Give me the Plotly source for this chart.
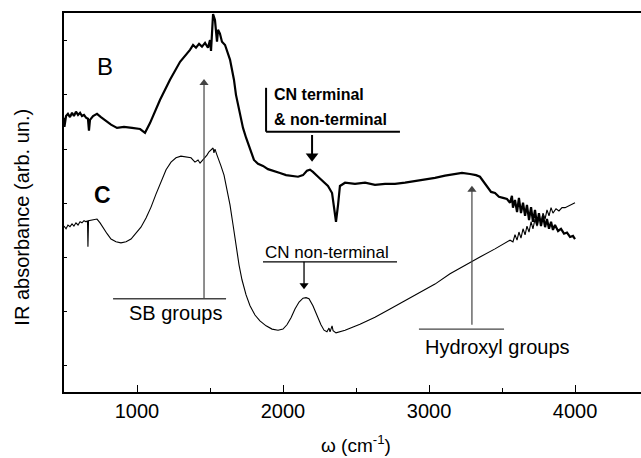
import plotly.graph_objects as go

# IR spectra, wavenumber (cm-1) vs absorbance (arbitrary units, offset traces)
wn_B = [500, 503, 514, 527, 541, 555, 568, 582, 596, 610, 623, 637, 651, 664, 671, 678, 699, 726, 753, 788,
        822, 863, 911, 966, 1021, 1055, 1089, 1158, 1226, 1295, 1363, 1384, 1404, 1425, 1445, 1466, 1486, 1500,
        1507, 1521, 1534, 1548, 1555, 1568, 1582, 1603, 1623, 1637, 1651, 1664, 1678, 1692, 1705, 1726, 1747,
        1774, 1801, 1829, 1863, 1897, 1938, 1979, 2021, 2062, 2103, 2137, 2164, 2185, 2205, 2240, 2281, 2308,
        2336, 2349, 2363, 2377, 2390, 2425, 2493, 2562, 2630, 2699, 2767, 2836, 2904, 2973, 3041, 3110, 3178,
        3226, 3281, 3322, 3349, 3377, 3404, 3425, 3452, 3479, 3507, 3534, 3555, 3568, 3575, 3589, 3603, 3616,
        3630, 3644, 3658, 3671, 3685, 3699, 3712, 3726, 3740, 3753, 3767, 3781, 3795, 3808, 3822, 3836, 3849,
        3863, 3884, 3904, 3925, 3945, 3966, 3986, 4000]
abs_B = [5.58, 5.41, 5.61, 5.65, 5.59, 5.67, 5.61, 5.69, 5.63, 5.67, 5.61, 5.63, 5.58, 5.56, 5.34, 5.54, 5.61,
         5.65, 5.59, 5.52, 5.45, 5.39, 5.41, 5.39, 5.37, 5.30, 5.48, 5.91, 6.28, 6.61, 6.83, 6.92, 6.87, 6.94,
         6.89, 6.96, 6.87, 7.01, 6.81, 7.49, 7.38, 6.98, 7.20, 7.13, 6.98, 6.92, 6.74, 6.65, 6.46, 6.28, 6.00,
         5.82, 5.63, 5.39, 5.21, 4.99, 4.80, 4.73, 4.69, 4.63, 4.60, 4.56, 4.52, 4.51, 4.49, 4.52, 4.60, 4.62,
         4.58, 4.49, 4.39, 4.32, 4.19, 3.97, 3.66, 3.97, 4.32, 4.38, 4.36, 4.38, 4.34, 4.36, 4.36, 4.38, 4.41,
         4.43, 4.47, 4.51, 4.54, 4.56, 4.54, 4.52, 4.49, 4.39, 4.28, 4.21, 4.19, 4.12, 4.10, 4.08, 4.01, 4.14,
         3.92, 4.06, 3.84, 4.10, 3.82, 4.01, 3.77, 3.97, 3.69, 3.93, 3.66, 3.88, 3.60, 3.82, 3.58, 3.77, 3.56,
         3.71, 3.53, 3.66, 3.51, 3.60, 3.49, 3.53, 3.44, 3.46, 3.38, 3.40, 3.34]

wn_C = [500, 514, 527, 541, 555, 568, 582, 596, 610, 623, 637, 651, 661, 664, 668, 685, 705, 726, 747, 767,
        795, 822, 856, 890, 925, 959, 993, 1027, 1062, 1096, 1130, 1164, 1199, 1233, 1267, 1301, 1336, 1370,
        1397, 1418, 1432, 1452, 1466, 1479, 1493, 1507, 1521, 1527, 1534, 1548, 1562, 1575, 1596, 1616, 1637,
        1658, 1678, 1699, 1719, 1747, 1774, 1808, 1842, 1884, 1925, 1966, 2000, 2027, 2055, 2082, 2110, 2137,
        2158, 2178, 2205, 2233, 2260, 2281, 2301, 2315, 2322, 2336, 2343, 2363, 2425, 2527, 2630, 2733, 2836,
        2938, 3041, 3144, 3247, 3349, 3452, 3521, 3555, 3575, 3589, 3603, 3616, 3630, 3644, 3658, 3671, 3685,
        3699, 3712, 3726, 3740, 3753, 3767, 3781, 3795, 3808, 3822, 3836, 3849, 3870, 3890, 3911, 3932, 3952,
        3973, 4000]
abs_C = [3.58, 3.53, 3.60, 3.57, 3.62, 3.58, 3.64, 3.60, 3.66, 3.64, 3.68, 3.66, 3.68, 3.20, 3.68, 3.69,
         3.71, 3.71, 3.64, 3.55, 3.44, 3.34, 3.29, 3.27, 3.29, 3.34, 3.44, 3.56, 3.73, 3.93, 4.17, 4.41, 4.62,
         4.76, 4.84, 4.87, 4.86, 4.84, 4.76, 4.80, 4.74, 4.80, 4.86, 4.89, 4.95, 4.99, 5.02, 4.93, 5.00, 4.89,
         4.80, 4.69, 4.52, 4.28, 3.97, 3.60, 3.23, 2.86, 2.59, 2.31, 2.11, 1.94, 1.83, 1.74, 1.68, 1.66, 1.68,
         1.76, 1.89, 2.05, 2.18, 2.25, 2.26, 2.24, 2.11, 1.92, 1.76, 1.66, 1.63, 1.70, 1.63, 1.74, 1.65, 1.61,
         1.66, 1.77, 1.90, 2.05, 2.20, 2.35, 2.51, 2.70, 2.86, 3.01, 3.16, 3.27, 3.32, 3.29, 3.42, 3.32, 3.47,
         3.36, 3.53, 3.42, 3.58, 3.47, 3.66, 3.53, 3.71, 3.58, 3.77, 3.64, 3.82, 3.71, 3.88, 3.77, 3.92, 3.82,
         3.90, 3.86, 3.92, 3.92, 3.95, 3.97, 4.01]

x_ticks = [1000, 2000, 3000, 4000]

FONT = "Arial, Liberation Sans, sans-serif"
GRAY = "#444444"

fig = go.Figure()
fig.add_trace(go.Scatter(x=wn_B, y=abs_B, mode="lines", line=dict(color="black", width=2.2),
                         showlegend=False, hoverinfo="skip"))
fig.add_trace(go.Scatter(x=wn_C, y=abs_C, mode="lines", line=dict(color="black", width=1.1),
                         showlegend=False, hoverinfo="skip"))

ann = []
shapes = []


def arrow(x, y_tail, y_tip, color, width, head):
    """Vertical arrow: a line shape plus a triangular head marker near the tip."""
    up = y_tip > y_tail
    off = 0.09 if head < 10 else 0.11
    y_head = y_tip - off if up else y_tip + off
    shapes.append(dict(type="line", x0=x, x1=x, y0=y_tail, y1=y_head,
                       line=dict(color=color, width=width)))
    fig.add_trace(go.Scatter(x=[x], y=[y_head], mode="markers", showlegend=False, hoverinfo="skip",
                             marker=dict(symbol="triangle-up" if up else "triangle-down",
                                         size=head, color=color, line=dict(width=0))))


# trace labels
ann.append(dict(x=781, y=6.52, text="B", showarrow=False, font=dict(size=24, color="black")))
ann.append(dict(x=767, y=4.16, text="<b>C</b>", showarrow=False, font=dict(size=23, color="black")))

# SB groups marker
arrow(1459, 2.24, 6.31, GRAY, 1.2, 8)
shapes.append(dict(type="line", x0=836, x1=1610, y0=2.24, y1=2.24, line=dict(color=GRAY, width=1.3)))
ann.append(dict(x=1267, y=1.98, text="SB groups", showarrow=False, font=dict(size=20, color="black")))

# CN terminal & non-terminal (curve B)
shapes.append(dict(type="line", x0=1884, x1=1884, y0=6.13, y1=5.32, line=dict(color="black", width=2)))
shapes.append(dict(type="line", x0=1884, x1=2801, y0=5.32, y1=5.32, line=dict(color="black", width=2)))
ann.append(dict(x=1925, y=6.00, text="<b>CN terminal</b>", showarrow=False, xanchor="left",
                font=dict(size=16, color="black")))
ann.append(dict(x=1925, y=5.54, text="<b>&amp; non-terminal</b>", showarrow=False, xanchor="left",
                font=dict(size=16, color="black")))
arrow(2199, 5.26, 4.76, "black", 2, 11)

# CN non-terminal (curve C)
ann.append(dict(x=2301, y=3.10, text="CN non-terminal", showarrow=False, font=dict(size=17, color="black")))
shapes.append(dict(type="line", x0=1863, x1=2781, y0=2.92, y1=2.92, line=dict(color="black", width=1.3)))
arrow(2144, 2.92, 2.40, "black", 1.3, 8)

# Hydroxyl groups marker
arrow(3294, 1.76, 4.34, GRAY, 1.2, 8)
shapes.append(dict(type="line", x0=2931, x1=3514, y0=1.68, y1=1.68, line=dict(color=GRAY, width=1.3)))
ann.append(dict(x=3472, y=1.35, text="Hydroxyl groups", showarrow=False, font=dict(size=20, color="black")))

# axis titles
ann.append(dict(xref="paper", yref="paper", x=0, y=0.46, xshift=-42, xanchor="center", yanchor="middle",
                text="IR absorbance (arb. un.)", textangle=-90, showarrow=False,
                font=dict(size=20, color="black")))
ann.append(dict(xref="paper", yref="paper", x=0.506, y=0, yshift=-38, xanchor="center", yanchor="top",
                text="ω (cm<sup>-1</sup>)", showarrow=False, font=dict(size=19, color="black")))

fig.update_layout(
    width=641, height=458,
    margin=dict(l=64, r=0, t=13, b=66),
    paper_bgcolor="white", plot_bgcolor="white",
    font=dict(family=FONT, size=20, color="black"),
    annotations=ann, shapes=shapes,
)
fig.update_xaxes(
    range=[500, 4452], showgrid=False, zeroline=False,
    showline=True, linecolor="black", linewidth=1.5, mirror=True,
    tickmode="array", tickvals=x_ticks, ticks="inside", ticklen=7, tickwidth=1.2, tickcolor="black",
    tickfont=dict(size=20, family=FONT),
    minor=dict(dtick=500, tick0=500, ticks="inside", ticklen=4, tickwidth=1.2, tickcolor="black"),
)
fig.update_yaxes(
    range=[0.52, 7.51], showgrid=False, zeroline=False,
    showline=True, linecolor="black", linewidth=1.5, mirror=False,
    tick0=1, dtick=1, ticks="inside", ticklen=3, tickwidth=1, tickcolor="black",
    showticklabels=False,
)

fig.write_html("out.html")
